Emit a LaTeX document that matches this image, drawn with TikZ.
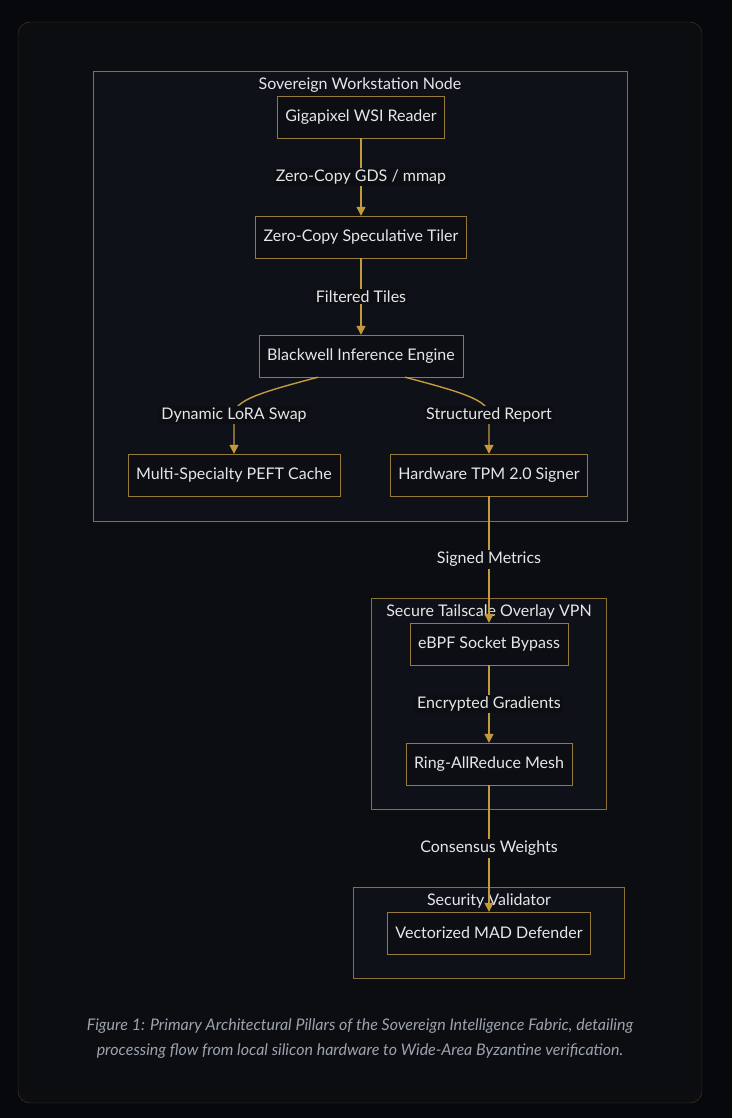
\documentclass[tikz,border=0pt]{standalone}
\usepackage{fontspec}
\setmainfont{Lato}
\usetikzlibrary{positioning,arrows.meta,calc}

\definecolor{pagebg}{HTML}{07080B}
\definecolor{panelbg}{HTML}{0B0D11}
\definecolor{panelline}{HTML}{4A3E22}
\definecolor{clusterbg}{HTML}{0E1118}
\definecolor{clusterline}{HTML}{8A7035}
\definecolor{nodebg}{HTML}{0C0E13}
\definecolor{nodeline}{HTML}{957A3C}
\definecolor{flow}{HTML}{C49A3C}
\definecolor{ink}{HTML}{E6E6E6}
\definecolor{capink}{HTML}{9CA3AF}

\begin{document}
\begin{tikzpicture}[
    x=1pt,y=-1pt,
    block/.style={draw=nodeline,fill=nodebg,text=ink,minimum height=42pt,inner xsep=8pt,font=\fontsize{16}{18}\selectfont},
    cluster/.style={draw=clusterline,fill=clusterbg,line width=0.9pt},
    ctitle/.style={text=ink,font=\fontsize{16}{18}\selectfont},
    elabel/.style={fill=nodebg,text=ink,inner sep=2pt,font=\fontsize{16}{18}\selectfont},
    arrow/.style={-{Triangle[length=9pt,width=9pt]},draw=flow,line width=1.4pt},
]
% page and panel
\useasboundingbox[fill=pagebg] (0,0) rectangle (732,1118);
\draw[panelline,fill=panelbg,rounded corners=12pt] (18,22) rectangle (702,1103);

% clusters
\draw[cluster] (93,71) rectangle (627,521);
\node[ctitle] (wsTitle) at (360,85) {Sovereign Workstation Node};
\draw[cluster] (371,598) rectangle (606,809);
\node[ctitle] (vpnTitle) at (489,612) {Secure Tailscale Overlay VPN};
\draw[cluster] (353,887) rectangle (624,978);
\node[ctitle] (secTitle) at (489,901) {Security Validator};

% nodes
\node[block] (reader)  at (361,117) {Gigapixel WSI Reader};
\node[block] (tiler)   at (361,237) {Zero-Copy Speculative Tiler};
\node[block] (engine)  at (361,356) {Blackwell Inference Engine};
\node[block] (peft)    at (234,475) {Multi-Specialty PEFT Cache};
\node[block] (tpm)     at (489,475) {Hardware TPM 2.0 Signer};
\node[block] (ebpf)    at (489,644) {eBPF Socket Bypass};
\node[block] (ring)    at (489,764) {Ring-AllReduce Mesh};
\node[block] (mad)     at (489,933) {Vectorized MAD Defender};

% flows
\draw[arrow] (reader) -- node[elabel] {Zero-Copy GDS / mmap} (tiler);
\draw[arrow] (tiler) -- node[elabel] {Filtered Tiles} (engine);
\draw[arrow] ([xshift=-43pt]engine.south) .. controls (262,392) and (234,400) .. (234,415) node[elabel] {Dynamic LoRA Swap} -- (peft.north);
\draw[arrow] ([xshift=44pt]engine.south) .. controls (461,392) and (489,400) .. (489,415) node[elabel] {Structured Report} -- (tpm.north);
\draw[arrow] (tpm) -- node[elabel] {Signed Metrics} (ebpf);
\draw[arrow] (ebpf) -- node[elabel] {Encrypted Gradients} (ring);
\draw[arrow] (ring) -- node[elabel] {Consensus Weights} (mad);

% caption
\node[text=capink,font=\fontsize{16}{25}\selectfont\itshape,align=center] (caption) at (360,1039)
  {Figure 1: Primary Architectural Pillars of the Sovereign Intelligence Fabric, detailing\\processing flow from local silicon hardware to Wide-Area Byzantine verification.};
\end{tikzpicture}
\end{document}
